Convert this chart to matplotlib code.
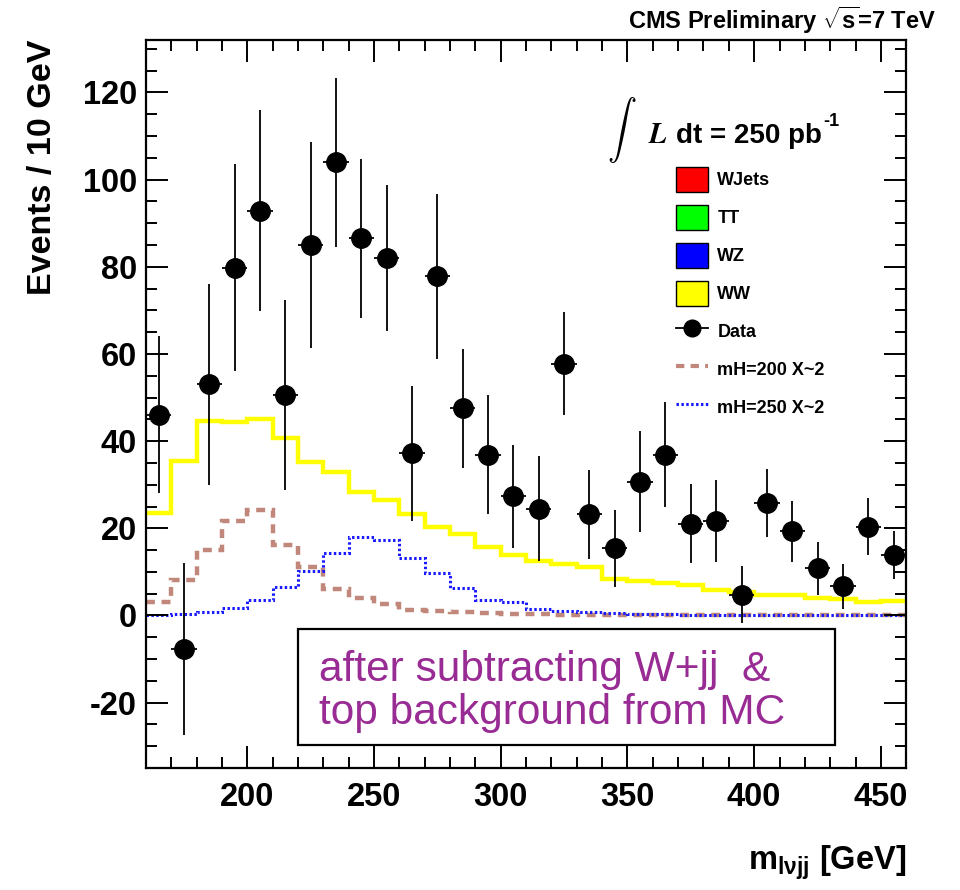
import numpy as np
import matplotlib
matplotlib.use('Agg')
import matplotlib.pyplot as plt
from matplotlib.patches import Patch, Rectangle
from matplotlib.lines import Line2D
from matplotlib.ticker import MultipleLocator

plt.rcParams['font.family'] = ['Liberation Sans', 'DejaVu Sans']
plt.rcParams['font.weight'] = 'bold'
plt.rcParams['axes.labelweight'] = 'bold'
plt.rcParams['axes.unicode_minus'] = False
plt.rcParams['mathtext.fontset'] = 'custom'
plt.rcParams['mathtext.rm'] = 'Liberation Sans:bold'
plt.rcParams['mathtext.it'] = 'Liberation Sans:bold'
plt.rcParams['mathtext.bf'] = 'Liberation Sans:bold'

# bin edges 160..460 GeV, 10 GeV wide
edges = np.arange(160, 470, 10)
centers = edges[:-1] + 5

data_y = [46.1, -7.6, 53.0, 79.8, 92.9, 50.5, 85.0, 104.0, 86.5, 82.0,
          37.2, 77.8, 47.5, 36.9, 27.3, 24.5, 57.8, 23.2, 15.4, 30.7,
          36.9, 21.1, 21.6, 4.8, 25.9, 19.3, 10.8, 6.7, 20.4, 13.8]
data_err = [18.0, 19.7, 23.0, 23.7, 23.0, 21.8, 23.7, 19.4, 18.2, 16.7,
            15.5, 19.0, 13.6, 13.6, 11.9, 12.0, 11.8, 10.2, 8.8, 11.6,
            12.0, 9.0, 9.4, 6.5, 7.8, 7.0, 6.0, 5.1, 6.5, 5.5]

ww = [23.4, 35.5, 44.5, 44.3, 45.0, 40.8, 35.1, 33.0, 28.4, 26.4,
      23.2, 20.2, 18.6, 15.7, 13.8, 12.4, 11.9, 11.1, 8.4, 7.8,
      7.4, 6.9, 5.9, 5.3, 4.6, 4.7, 3.9, 3.8, 3.0, 3.4]
mh200 = [3.2, 8.2, 15.1, 21.7, 24.2, 16.2, 11.2, 6.1, 4.1, 2.7,
         1.3, 1.1, 0.8, 0.6, 0.4, 0.3, 0.2, 0.15, 0.1, 0.1,
         0.1, 0.1, 0.05, 0.05, 0.05, 0.05, 0.05, 0.05, 0.05, 0.05]
mh250 = [0.15, 0.4, 0.9, 1.7, 3.6, 6.5, 10.1, 14.3, 18.1, 17.4,
         13.2, 9.7, 6.3, 3.6, 3.0, 1.5, 1.1, 0.7, 0.5, 0.4,
         0.3, 0.2, 0.2, 0.15, 0.15, 0.1, 0.1, 0.1, 0.1, 0.1]

fig = plt.figure(figsize=(9.6, 8.9), dpi=100)
ax = fig.add_axes([0.152, 0.137, 0.792, 0.818])

ax.stairs(ww, edges, color='#ffff00', lw=3.2, baseline=None)
ax.stairs(mh200, edges, color='#c0877a', lw=3.2, ls=(0, (2, 1.5)), baseline=None)
ax.stairs(mh250, edges, color='#1a1aff', lw=2.2, ls=(0, (0.8, 0.8)), baseline=None)
ax.errorbar(centers, data_y, yerr=data_err, xerr=5, fmt='o', color='black',
            ms=14, elinewidth=1.3, capsize=0, zorder=5)

ax.set_xlim(160, 460)
ax.set_ylim(-35, 132)
ax.xaxis.set_major_locator(MultipleLocator(50))
ax.xaxis.set_minor_locator(MultipleLocator(10))
ax.yaxis.set_major_locator(MultipleLocator(20))
ax.yaxis.set_minor_locator(MultipleLocator(5))
ax.tick_params(which='both', direction='in', top=True, right=True, width=1.4,
               labelsize=23.5)
ax.tick_params(which='major', length=16)
ax.tick_params(axis='x', which='major', pad=10)
ax.tick_params(axis='y', which='major', pad=6.5)
ax.tick_params(which='minor', length=8)
for s in ax.spines.values():
    s.set_linewidth(1.6)

ax.set_ylabel('Events / 10 GeV', fontsize=24.5, loc='top', labelpad=18)
ax.set_xlabel(r'm$_{l\nu jj}$ [GeV]', fontsize=23.5, loc='right', labelpad=22)

fig.text(0.975, 0.977, r'CMS Preliminary $\sqrt{s}$=7 TeV', fontsize=17,
         ha='right', va='center')

ax.text(0.626, 0.876, r'$\int$', transform=ax.transAxes, fontsize=21,
        math_fontfamily='cm', ha='center', va='center')
ax.text(0.66, 0.87, r'$L$', transform=ax.transAxes, fontsize=21,
        math_fontfamily='stix', ha='left', va='center')
ax.text(0.697, 0.868, 'dt = 250 pb', transform=ax.transAxes,
        fontsize=20, ha='left', va='center')
ax.text(0.891, 0.888, '-1', transform=ax.transAxes,
        fontsize=13, ha='left', va='center')

handles = [Patch(facecolor='#ff0000', edgecolor='black'),
           Patch(facecolor='#00ff00', edgecolor='black'),
           Patch(facecolor='#0000ff', edgecolor='black'),
           Patch(facecolor='#ffff00', edgecolor='black'),
           Line2D([], [], color='black', marker='o', ms=12, lw=1.3),
           Line2D([], [], color='#c0877a', lw=3, ls=(0, (2, 1.5))),
           Line2D([], [], color='#1a1aff', lw=2.2, ls=(0, (0.8, 0.8)))]
labels = ['WJets', 'TT', 'WZ', 'WW', 'Data', 'mH=200 X~2', 'mH=250 X~2']
ax.legend(handles, labels, loc='upper left', bbox_to_anchor=(0.697, 0.826),
          frameon=False, fontsize=13, handlelength=1.8, handleheight=1.8,
          labelspacing=0.69, handletextpad=0.5, borderpad=0, borderaxespad=0)

ax.add_patch(Rectangle((0.2, 0.0316), 0.7066, 0.16, transform=ax.transAxes,
                       fill=False, edgecolor='black', lw=1.6, zorder=6))
ax.text(0.228, 0.135, 'after subtracting W+jj  &', transform=ax.transAxes,
        fontsize=30.5, fontweight='normal', color='#992b94', va='center')
ax.text(0.228, 0.076, 'top background from MC', transform=ax.transAxes,
        fontsize=30.5, fontweight='normal', color='#992b94', va='center')

fig.savefig('out.png', dpi=100)
